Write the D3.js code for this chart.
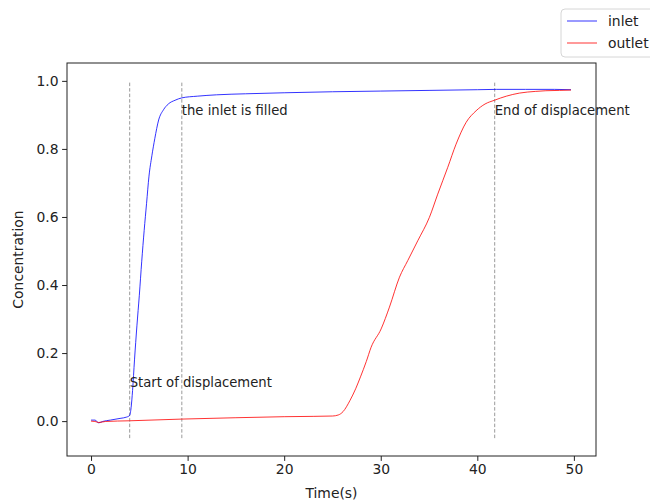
<!DOCTYPE html>
<html>
<head>
<meta charset="utf-8">
<script src="https://cdn.jsdelivr.net/npm/d3@7"></script>
<style>
  body { margin: 0; background: #fff; }
  svg { display: block; font-family: "DejaVu Sans", sans-serif; }
</style>
</head>
<body>
<div id="chart-container"></div>
<script>
// inlet concentration readings
const inletTime = [0, 0.4, 0.8, 1.2, 2, 3, 3.7, 4.0, 4.15, 4.3, 4.5, 4.75, 5.0, 5.25, 5.5, 5.75, 6.0, 6.3, 6.6, 7.0, 7.5, 8.0, 8.7, 9.4, 11, 13, 16, 20, 25, 30, 35, 40, 42, 45, 48, 49.7];
const inletConc = [0.003, 0.003, -0.005, -0.001, 0.003, 0.008, 0.012, 0.017, 0.04, 0.09, 0.18, 0.28, 0.37, 0.47, 0.56, 0.64, 0.72, 0.78, 0.83, 0.885, 0.915, 0.932, 0.943, 0.950, 0.955, 0.959, 0.962, 0.965, 0.968, 0.970, 0.972, 0.974, 0.975, 0.975, 0.975, 0.974];

// outlet concentration readings
const outletTime = [0, 0.4, 0.8, 1.5, 4, 9.4, 15, 20, 23, 25, 25.6, 26.1, 26.8, 27.4, 27.9, 28.5, 29.0, 30.04, 30.9, 31.94, 32.8, 33.83, 35.04, 35.9, 36.94, 37.8, 38.84, 39.87, 40.8, 41.77, 43, 44.35, 46, 47.1, 48.5, 49.7];
const outletConc = [0.0, -0.001, -0.004, -0.001, 0.001, 0.006, 0.01, 0.013, 0.014, 0.015, 0.018, 0.028, 0.06, 0.095, 0.13, 0.175, 0.217, 0.271, 0.335, 0.423, 0.472, 0.530, 0.599, 0.667, 0.746, 0.814, 0.878, 0.912, 0.932, 0.943, 0.955, 0.964, 0.969, 0.971, 0.972, 0.973];

// event markers: vertical lines and their labels
const markerTime = [4.0, 9.4, 41.8];
const markerLabel = ["Start of displacement", "the inlet is filled", "End of displacement"];
const markerLabelY = [0.1, 0.9, 0.9];

const xTicks = [0, 10, 20, 30, 40, 50];
const yTicks = [0.0, 0.2, 0.4, 0.6, 0.8, 1.0];

const width = 650;
const height = 504;
const marginTop = 63;
const marginRight = 54;
const marginBottom = 48;
const marginLeft = 67;

const inlet = inletTime.map((t, i) => ({ t: t, c: inletConc[i] }));
const outlet = outletTime.map((t, i) => ({ t: t, c: outletConc[i] }));

const x = d3.scaleLinear()
    .domain([-2.49, 52.29])
    .range([marginLeft, width - marginRight]);

const y = d3.scaleLinear()
    .domain([-0.1025, 1.0525])
    .range([height - marginBottom, marginTop]);

const line = d3.line()
    .curve(d3.curveMonotoneX)
    .x(d => x(d.t))
    .y(d => y(d.c));

const svg = d3.select("#chart-container").append("svg")
    .attr("width", width)
    .attr("height", height)
    .attr("viewBox", [0, 0, width, height]);

// vertical dashed markers
svg.append("g")
  .selectAll("line")
  .data(markerTime)
  .join("line")
    .attr("x1", d => x(d))
    .attr("x2", d => x(d))
    .attr("y1", y(-0.05))
    .attr("y2", y(1.0))
    .attr("stroke", "#808080")
    .attr("stroke-width", 0.8)
    .attr("stroke-dasharray", "3.5,2");

svg.append("path")
    .datum(inlet)
    .attr("fill", "none")
    .attr("stroke", "blue")
    .attr("stroke-opacity", 0.8)
    .attr("stroke-width", 1)
    .attr("d", line);

svg.append("path")
    .datum(outlet)
    .attr("fill", "none")
    .attr("stroke", "red")
    .attr("stroke-opacity", 0.8)
    .attr("stroke-width", 1)
    .attr("d", line);

svg.append("g")
  .selectAll("text")
  .data(markerTime)
  .join("text")
    .attr("x", d => x(d))
    .attr("y", (d, i) => y(markerLabelY[i]))
    .attr("font-size", 13.2)
    .attr("fill", "#222")
    .text((d, i) => markerLabel[i]);

// axes
const xAxis = svg.append("g")
    .attr("transform", `translate(0,${height - marginBottom})`)
    .call(d3.axisBottom(x).tickValues(xTicks).tickFormat(d3.format("d")).tickSize(4.9).tickPadding(3.5));

const yAxis = svg.append("g")
    .attr("transform", `translate(${marginLeft},0)`)
    .call(d3.axisLeft(y).tickValues(yTicks).tickFormat(d3.format(".1f")).tickSize(4.9).tickPadding(3.5));

[xAxis, yAxis].forEach(g => {
  g.select(".domain").remove();
  g.selectAll(".tick line").attr("stroke", "#222").attr("stroke-width", 1);
  g.selectAll(".tick text")
    .attr("font-family", "DejaVu Sans")
    .attr("font-size", 13.9)
    .attr("fill", "#222");
});

// frame
svg.append("rect")
    .attr("x", marginLeft)
    .attr("y", marginTop)
    .attr("width", width - marginRight - marginLeft)
    .attr("height", height - marginBottom - marginTop)
    .attr("fill", "none")
    .attr("stroke", "#222")
    .attr("stroke-width", 1);

svg.append("text")
    .attr("x", (marginLeft + width - marginRight) / 2)
    .attr("y", 498)
    .attr("text-anchor", "middle")
    .attr("font-size", 13.9)
    .attr("fill", "#222")
    .text("Time(s)");

svg.append("text")
    .attr("transform", `translate(23,${(marginTop + height - marginBottom) / 2}) rotate(-90)`)
    .attr("text-anchor", "middle")
    .attr("font-size", 13.9)
    .attr("fill", "#222")
    .text("Concentration");

// legend
const legend = svg.append("g").attr("transform", "translate(561,9)");
legend.append("rect")
    .attr("width", 100)
    .attr("height", 48)
    .attr("rx", 4)
    .attr("fill", "#fff")
    .attr("fill-opacity", 0.8)
    .attr("stroke", "#d6d6d6");

const legendItems = [
  { name: "inlet", color: "blue" },
  { name: "outlet", color: "red" }
];

const item = legend.selectAll(".item")
  .data(legendItems)
  .join("g")
    .attr("transform", (d, i) => `translate(0,${12 + i * 22})`);

item.append("line")
    .attr("x1", 6)
    .attr("x2", 36)
    .attr("stroke", d => d.color)
    .attr("stroke-opacity", 0.8)
    .attr("stroke-width", 1);

item.append("text")
    .attr("x", 47)
    .attr("dy", "0.35em")
    .attr("font-size", 13.9)
    .attr("fill", "#222")
    .text(d => d.name);
</script>
</body>
</html>
